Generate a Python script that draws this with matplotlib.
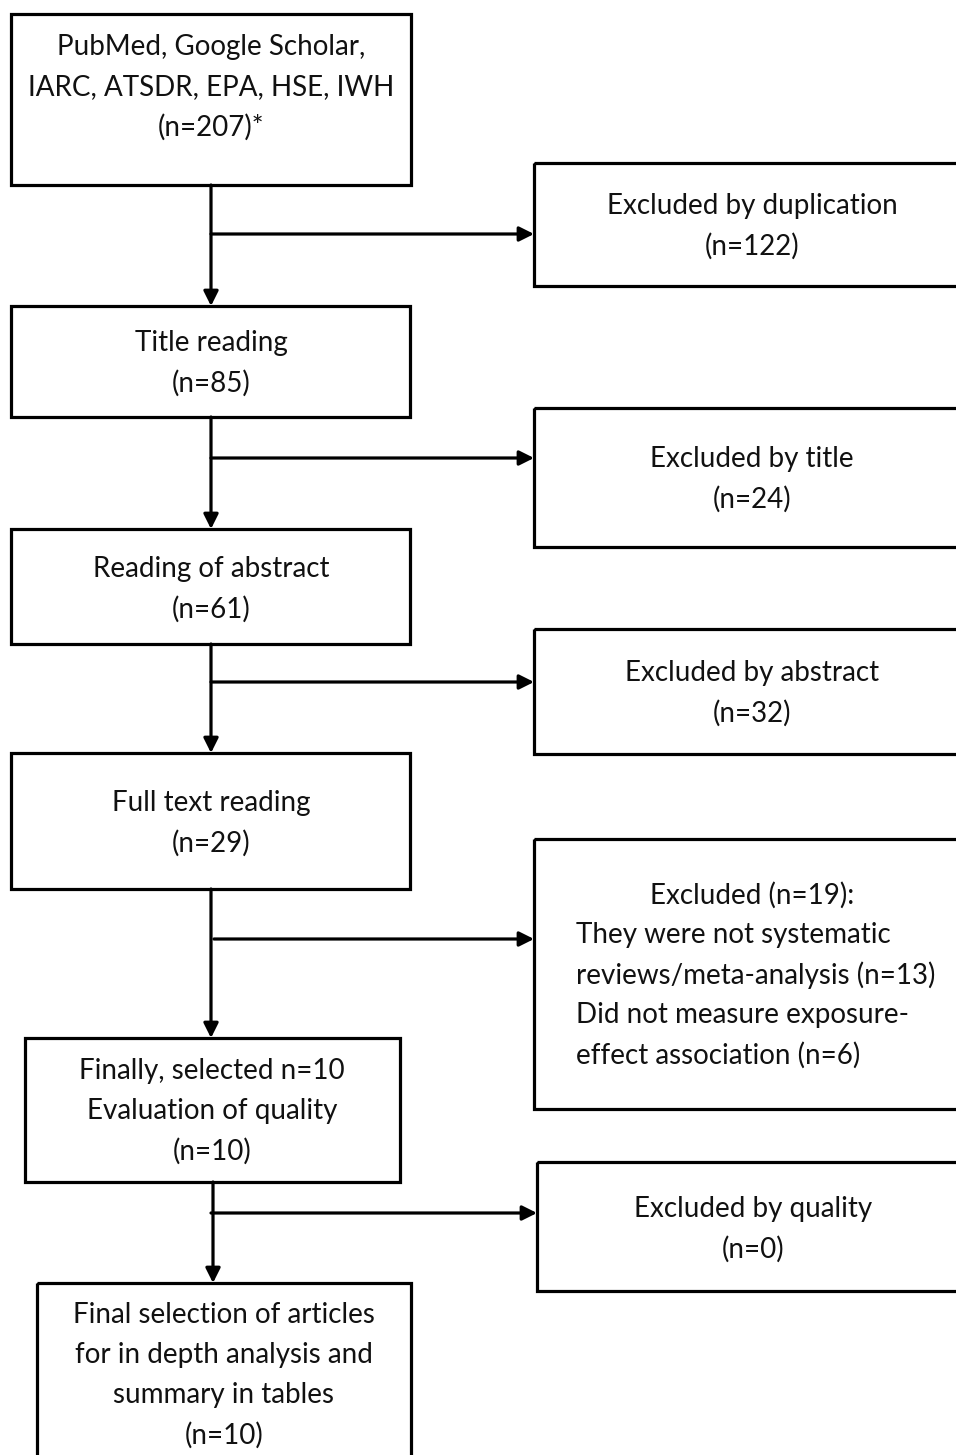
import matplotlib
matplotlib.use("Agg")
import matplotlib.pyplot as plt
from matplotlib.patches import Rectangle, FancyArrowPatch

plt.rcParams['font.family'] = ['Lato', 'DejaVu Sans']

# ---- data ----
main_labels = ["PubMed, Google Scholar,\nIARC, ATSDR, EPA, HSE, IWH",
               "Title reading",
               "Reading of abstract",
               "Full text reading",
               "Finally, selected n=10\nEvaluation of quality",
               "Final selection of articles\nfor in depth analysis and\nsummary in tables"]
main_counts = [207, 85, 61, 29, 10, 10]
main_suffix = ["*", "", "", "", "", ""]
excl_labels = ["Excluded by duplication", "Excluded by title", "Excluded by abstract",
               "Excluded", "Excluded by quality"]
excl_counts = [122, 24, 32, 19, 0]
excl_reasons = ["They were not systematic\nreviews/meta-analysis",
                "Did not measure exposure-\neffect association"]
excl_reason_counts = [13, 6]

W, H = 956, 1455
fig = plt.figure(figsize=(W / 100, H / 100), dpi=100)
ax = fig.add_axes([0, 0, 1, 1])
ax.set_xlim(0, W)
ax.set_ylim(H, 0)
ax.axis('off')

LW = 2.3
FS = 20
LH = 40  # line height px
DY = 2

# layout: (x0, y0, x1, y1, text_cx, first_text_y)
main_boxes = [(11, 14, 411, 185, 211, 45),
              (11, 306, 410, 417, 211, 341),
              (11, 529, 410, 644, 211, 567),
              (11, 753, 410, 889, 211, 801),
              (25, 1038, 400, 1182, 212, 1069),
              (37, 1283, 411, 1480, 224, 1313)]
excl_boxes = [(534, 163, 980, 286, 752, 204),
              (534, 408, 980, 547, 752, 457),
              (534, 629, 980, 754, 752, 671),
              (534, 839, 980, 1109, 752, 893),
              (537, 1162, 980, 1291, 753, 1207)]
vert_x = [211, 211, 211, 211, 213]
branch_y = [234, 458, 682, 939, 1213]
branch_x0 = [211, 211, 211, 214, 211]


def box(b):
    x0, y0, x1, y1 = b[:4]
    ax.add_patch(Rectangle((x0, y0), x1 - x0, y1 - y0, fill=False,
                           edgecolor='black', linewidth=LW))


def lines_at(lines, cx, y, ha='center'):
    for i, ln in enumerate(lines):
        ax.text(cx, y + DY + i * LH, ln, ha=ha, va='center', fontsize=FS, color='#111111')


def arrow(x0, y0, x1, y1):
    ax.add_patch(FancyArrowPatch((x0, y0), (x1, y1), arrowstyle='-|>',
                                 mutation_scale=22, linewidth=LW, color='black',
                                 shrinkA=0, shrinkB=0))


for i, b in enumerate(main_boxes):
    box(b)
    lines = main_labels[i].split("\n") + [f"(n={main_counts[i]}){main_suffix[i]}"]
    lines_at(lines, b[4], b[5])

for i, b in enumerate(excl_boxes):
    box(b)
    if i == 3:
        ax.text(b[4], b[5] + DY, f"{excl_labels[i]} (n={excl_counts[i]}):", ha='center',
                va='center', fontsize=FS, color='#111111')
        rl = []
        for r, c in zip(excl_reasons, excl_reason_counts):
            parts = r.split("\n")
            parts[-1] = parts[-1] + f" (n={c})"
            rl += parts
        lines_at(rl, 576, b[5] + LH, ha='left')
    else:
        lines_at([excl_labels[i], f"(n={excl_counts[i]})"], b[4], b[5])

# vertical arrows
for i in range(5):
    arrow(vert_x[i], main_boxes[i][3], vert_x[i], main_boxes[i + 1][1])
# branch arrows
for i in range(5):
    arrow(branch_x0[i], branch_y[i], excl_boxes[i][0], branch_y[i])

fig.savefig("out.png", dpi=100, facecolor='white')
